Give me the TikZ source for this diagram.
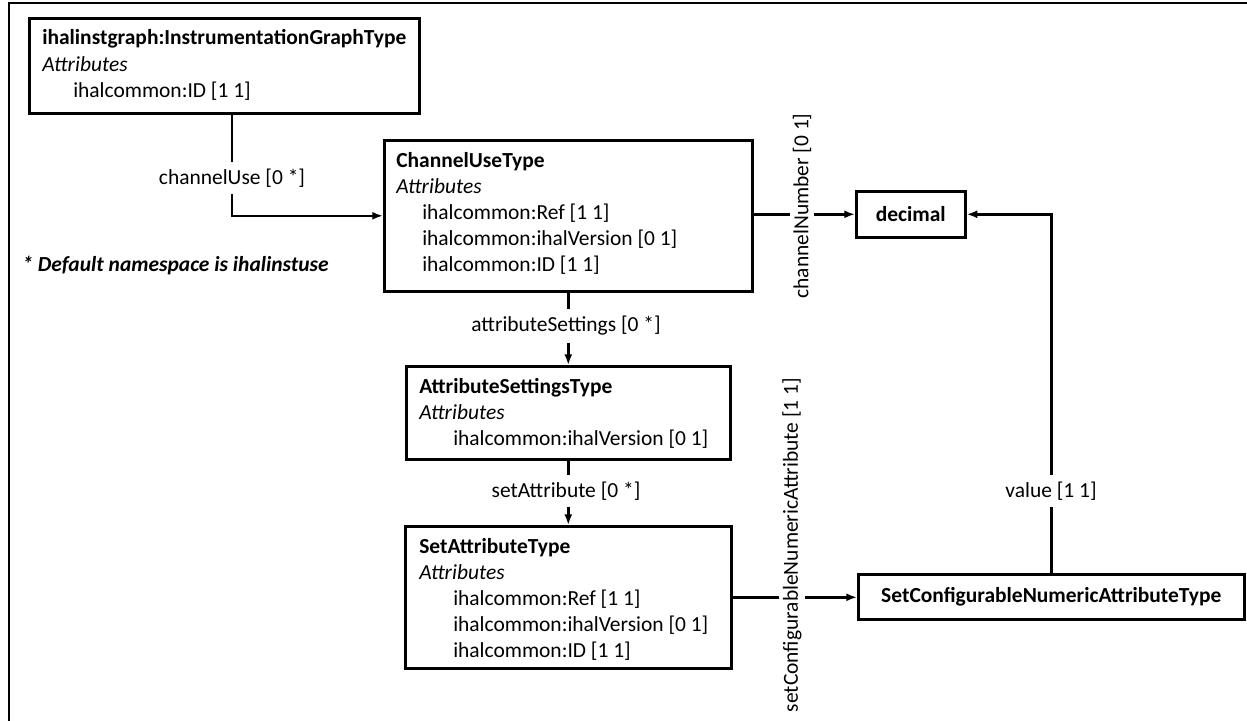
\documentclass[tikz,border=0pt]{standalone}
\usepackage{fontspec}
\setmainfont{Carlito}
\usetikzlibrary{arrows.meta}
\newcommand\upx{0.75pt}
\begin{document}
\begin{tikzpicture}[x=0.75pt,y=-0.75pt,
  font=\fontsize{16.1}{19.5}\selectfont,
  box/.style={draw, line width=1.95pt, inner sep=0pt, anchor=north west},
  txt/.style={inner sep=0pt, anchor=base west},
  conn/.style={line width=1.95pt, -{Latex[length=8pt,width=6pt]}},
  link/.style={line width=1.95pt},
  lbl/.style={fill=white, inner xsep=1.5pt, inner ysep=5.25pt},
  vlbl/.style={fill=white, rotate=90, inner xsep=1.5pt, inner ysep=2.25pt},
  frame/.style={line width=1.95pt}
]
\useasboundingbox (0,0) rectangle (1247,721);

% page frame (top and left edges)
\draw[frame] (1247,3) -| (9,721);

% type boxes
\node[box, minimum width={390*\upx}, minimum height={95*\upx}]  (g)   at (28,17)  {};
\node[box, minimum width={368*\upx}, minimum height={151*\upx}] (cu)  at (383,139) {};
\node[box, minimum width={324*\upx}, minimum height={93*\upx}]  (as)  at (405,365) {};
\node[box, minimum width={326*\upx}, minimum height={142*\upx}] (sa)  at (404,525) {};
\node[box, minimum width={109*\upx}, minimum height={46*\upx}]  (dec) at (855,190) {\textbf{decimal}};
\node[box, minimum width={386*\upx}, minimum height={45*\upx}]  (sc)  at (857,573) {\textbf{SetConfigurableNumericAttributeType}};

% box contents
\node[txt] (g-t) at (42,45) {\textbf{ihalinstgraph:InstrumentationGraphType}};
\node[txt] (g-a) at (42,71) {\textit{Attributes}};
\node[txt] (g-1) at (73,97) {ihalcommon:ID [1 1]};

\node[txt] (cu-t) at (396,167) {\textbf{ChannelUseType}};
\node[txt] (cu-a) at (396,193) {\textit{Attributes}};
\node[txt] (cu-1) at (422,219) {ihalcommon:Ref [1 1]};
\node[txt] (cu-2) at (422,245) {ihalcommon:ihalVersion [0 1]};
\node[txt] (cu-3) at (422,271) {ihalcommon:ID [1 1]};

\node[txt] (as-t) at (419,393) {\textbf{AttributeSettingsType}};
\node[txt] (as-a) at (419,419) {\textit{Attributes}};
\node[txt] (as-1) at (453,445) {ihalcommon:ihalVersion [0 1]};

\node[txt] (sa-t) at (419,553) {\textbf{SetAttributeType}};
\node[txt] (sa-a) at (419,579) {\textit{Attributes}};
\node[txt] (sa-1) at (453,605) {ihalcommon:Ref [1 1]};
\node[txt] (sa-2) at (453,631) {ihalcommon:ihalVersion [0 1]};
\node[txt] (sa-3) at (453,657) {ihalcommon:ID [1 1]};

\node[txt] (ns) at (22,271) {\bfseries\itshape * Default namespace is ihalinstuse};

% connectors
\coordinate (j1) at (232,0);
\draw[conn] (g.south -| j1) |- (cu.west);
\draw[conn] (cu.east |- dec.west) -- (dec.west);
\draw[conn] (sc.north) |- (dec.east);
\draw[conn] (cu.south) -- (as.north -| cu.south);
\draw[conn] (as.south) -- (sa.north -| as.south);
\draw[conn] (sa.east) -- (sc.west |- sa.east);

% connector labels
\node[lbl]  (l-cu)  at (232,178) {channelUse [0 *]};
\node[lbl]  (l-as)  at (566,326) {attributeSettings [0 *]};
\node[lbl]  (l-sa)  at (566,491) {setAttribute [0 *]};
\node[lbl]  (l-val) at (1051,491) {value [1 1]};
\node[vlbl] (l-cn)  at (802,206) {channelNumber [0 1]};
\node[vlbl] (l-scn) at (792,545) {setConfigurableNumericAttribute [1 1]};
\end{tikzpicture}
\end{document}
